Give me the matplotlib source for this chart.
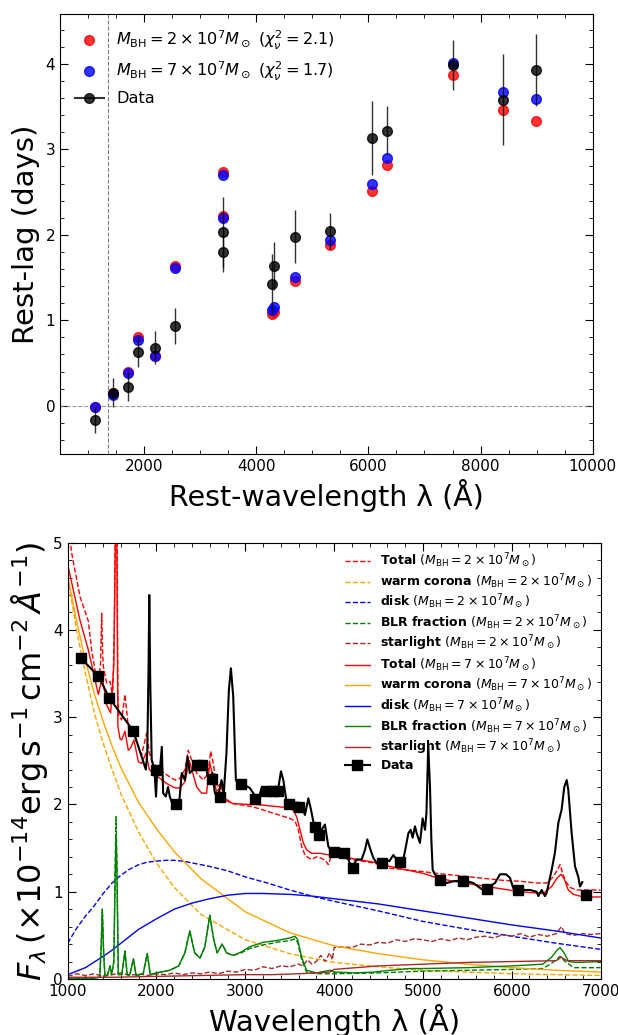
import matplotlib
matplotlib.use('Agg')
import matplotlib.pyplot as plt
from matplotlib.lines import Line2D
from matplotlib.ticker import MultipleLocator

# ---------------- top panel: rest-frame lags ----------------
lag_wave = [1127, 1444, 1704, 1887, 2197, 2549, 3401, 3401, 4282, 4310, 4683, 5310, 6063, 6331, 7514, 8408, 8993]
lag_model_2e7 = [-0.02, 0.15, 0.40, 0.80, 0.58, 1.64, 2.73, 2.22, 1.07, 1.10, 1.46, 1.88, 2.51, 2.82, 3.87, 3.46, 3.33]
lag_model_7e7 = [-0.02, 0.13, 0.38, 0.77, 0.58, 1.61, 2.70, 2.20, 1.12, 1.16, 1.51, 1.94, 2.59, 2.90, 4.01, 3.67, 3.59]
lag_data = [-0.17, 0.15, 0.22, 0.63, 0.68, 0.93, 2.03, 1.80, 1.42, 1.64, 1.98, 2.04, 3.13, 3.22, 3.99, 3.58, 3.93]
lag_err = [0.15, 0.17, 0.17, 0.18, 0.19, 0.21, 0.41, 0.24, 0.35, 0.28, 0.31, 0.21, 0.43, 0.29, 0.29, 0.53, 0.42]
lyman_edge = 1350

# ---------------- bottom panel: SED decomposition ----------------
tot2_w = [1000, 1045, 1139, 1200, 1233, 1270, 1308, 1345, 1370, 1383, 1395, 1402, 1439, 1477, 1507, 1525, 1540, 1555,
          1565, 1575, 1608, 1645, 1683, 1721, 1746, 1796, 1833, 1890, 1919, 1964, 2039, 2114, 2208, 2265, 2320, 2358,
          2396, 2453, 2527, 2583, 2610, 2640, 2676, 2732, 2770, 2863, 3050, 3128, 3315, 3503, 3560, 3597, 3635, 3672,
          3710, 3747, 3800, 3841, 3900, 3935, 3972, 4066, 4254, 4441, 4630, 4817, 5005, 5155, 5342, 5530, 5718, 5906,
          6093, 6281, 6394, 6468, 6525, 6544, 6562, 6600, 6656, 6731, 7000]
tot2_f = [5.30, 4.88, 4.38, 4.20, 4.10, 3.77, 3.54, 3.41, 3.60, 4.19, 3.70, 3.58, 3.39, 3.41, 3.24, 4.00, 5.50, 5.50,
          3.30, 3.01, 2.97, 3.26, 2.89, 2.85, 2.80, 2.66, 2.57, 2.82, 2.59, 2.47, 2.40, 2.34, 2.28, 2.30, 2.40, 2.62,
          2.51, 2.36, 2.28, 2.36, 2.61, 2.47, 2.20, 2.24, 2.07, 2.01, 1.98, 1.96, 1.90, 1.84, 1.81, 1.71, 1.52, 1.42,
          1.39, 1.37, 1.40, 1.39, 1.36, 1.31, 1.42, 1.39, 1.36, 1.33, 1.27, 1.25, 1.23, 1.21, 1.19, 1.17, 1.15, 1.13,
          1.12, 1.10, 1.10, 1.17, 1.27, 1.31, 1.25, 1.13, 1.05, 1.02, 1.02]

tot7_w = [1000, 1139, 1233, 1308, 1345, 1390, 1439, 1484, 1520, 1540, 1552, 1565, 1590, 1608, 1645, 1683, 1710, 1746,
          1796, 1833, 1882, 1919, 1964, 2039, 2114, 2208, 2265, 2320, 2370, 2408, 2453, 2508, 2565, 2600, 2631, 2676,
          2732, 2770, 2863, 3050, 3128, 3315, 3503, 3541, 3578, 3616, 3653, 3691, 3747, 3841, 3954, 4066, 4254, 4441,
          4630, 4817, 5005, 5155, 5342, 5718, 6093, 6356, 6450, 6506, 6555, 6590, 6637, 6694, 6769, 6844, 7000]
tot7_f = [4.75, 4.11, 3.77, 3.43, 3.26, 3.46, 3.14, 3.05, 3.60, 5.30, 5.30, 2.90, 2.75, 2.74, 2.84, 2.62, 2.65, 2.74,
          2.49, 2.47, 2.59, 2.40, 2.36, 2.30, 2.24, 2.19, 2.19, 2.26, 2.50, 2.36, 2.20, 2.13, 2.13, 2.48, 2.34, 2.15,
          2.20, 2.05, 2.01, 2.00, 2.00, 1.98, 1.96, 1.93, 1.86, 1.71, 1.56, 1.48, 1.44, 1.44, 1.42, 1.41, 1.37, 1.34,
          1.29, 1.25, 1.21, 1.16, 1.12, 1.06, 1.00, 0.98, 1.06, 1.15, 1.20, 1.15, 1.02, 0.97, 0.95, 0.94, 0.94]

corona2_w = [1000, 1100, 1200, 1300, 1400, 1500, 1600, 1800, 2000, 2200, 2500, 3000, 3500, 4000, 4500, 5000, 6000, 7000]
corona2_f = [4.60, 4.00, 3.50, 3.05, 2.70, 2.40, 2.12, 1.68, 1.33, 1.05, 0.74, 0.45, 0.29, 0.19, 0.14, 0.10, 0.06, 0.04]
corona7_w = [1000, 1100, 1200, 1300, 1400, 1500, 1600, 1800, 2000, 2200, 2500, 3000, 3500, 4000, 4500, 5000, 5500,
             6000, 6500, 7000]
corona7_f = [4.62, 4.10, 3.65, 3.27, 2.95, 2.67, 2.42, 2.02, 1.72, 1.46, 1.15, 0.77, 0.53, 0.38, 0.29, 0.22, 0.17,
             0.13, 0.10, 0.08]

disk2_w = [1000, 1100, 1200, 1300, 1400, 1500, 1600, 1700, 1800, 1900, 2000, 2100, 2200, 2300, 2400, 2500, 2600, 2800,
           3000, 3250, 3500, 3750, 4000, 4500, 5000, 5500, 6000, 6500, 7000]
disk2_f = [0.41, 0.58, 0.72, 0.84, 0.98, 1.10, 1.19, 1.26, 1.31, 1.34, 1.35, 1.36, 1.36, 1.35, 1.33, 1.31, 1.29, 1.24,
           1.17, 1.10, 1.02, 0.95, 0.89, 0.78, 0.66, 0.57, 0.49, 0.41, 0.34]
disk7_w = [1000, 1200, 1400, 1500, 1600, 1800, 2000, 2200, 2400, 2600, 2800, 3000, 3200, 3500, 3750, 4000, 4500, 5000,
           5500, 6000, 6500, 7000]
disk7_f = [0.05, 0.13, 0.26, 0.33, 0.41, 0.57, 0.69, 0.80, 0.87, 0.92, 0.96, 0.98, 0.98, 0.97, 0.95, 0.92, 0.86, 0.78,
           0.70, 0.62, 0.55, 0.47]

blr7_w = [1000, 1300, 1360, 1375, 1390, 1405, 1420, 1450, 1477, 1495, 1520, 1535, 1545, 1555, 1570, 1610, 1645, 1670,
          1700, 1740, 1770, 1850, 1896, 1930, 2000, 2150, 2250, 2320, 2375, 2430, 2490, 2545, 2600, 2645, 2683, 2740,
          2789, 2863, 2955, 3050, 3200, 3350, 3500, 3560, 3590, 3635, 3690, 3800, 3900, 3960, 4000, 4250, 4450, 4630,
          4850, 5000, 5500, 6000, 6350, 6450, 6510, 6545, 6590, 6640, 6730, 7000]
blr7_f = [0.01, 0.01, 0.02, 0.30, 0.80, 0.30, 0.03, 0.05, 0.15, 0.05, 0.20, 1.20, 1.65, 1.20, 0.05, 0.05, 0.32, 0.05,
          0.05, 0.23, 0.04, 0.06, 0.29, 0.05, 0.07, 0.10, 0.15, 0.30, 0.55, 0.30, 0.24, 0.37, 0.73, 0.45, 0.30, 0.40,
          0.30, 0.27, 0.31, 0.37, 0.42, 0.44, 0.47, 0.49, 0.45, 0.25, 0.10, 0.07, 0.09, 0.10, 0.08, 0.07, 0.08, 0.10,
          0.12, 0.12, 0.13, 0.15, 0.17, 0.25, 0.33, 0.36, 0.30, 0.20, 0.19, 0.20]
blr2_w = [1000, 1300, 1360, 1375, 1390, 1405, 1420, 1450, 1477, 1495, 1520, 1535, 1545, 1555, 1570, 1610, 1645, 1670,
          1700, 1740, 1770, 1850, 1896, 1930, 2000, 2150, 2250, 2320, 2375, 2430, 2490, 2545, 2600, 2645, 2683, 2740,
          2789, 2863, 2955, 3050, 3200, 3350, 3500, 3560, 3590, 3635, 3690, 3800, 4000, 4500, 5000, 5500, 6000, 6350,
          6450, 6545, 6600, 6700, 7000]
blr2_f = [0.01, 0.01, 0.02, 0.30, 0.80, 0.30, 0.03, 0.05, 0.15, 0.05, 0.20, 1.30, 1.86, 1.30, 0.05, 0.05, 0.32, 0.05,
          0.05, 0.23, 0.04, 0.06, 0.29, 0.05, 0.07, 0.10, 0.15, 0.30, 0.55, 0.30, 0.24, 0.37, 0.73, 0.45, 0.30, 0.40,
          0.30, 0.27, 0.30, 0.35, 0.39, 0.42, 0.44, 0.46, 0.42, 0.22, 0.08, 0.06, 0.06, 0.07, 0.09, 0.10, 0.11, 0.12,
          0.18, 0.26, 0.20, 0.13, 0.13]

star2_w = [1000, 1100, 1200, 1300, 1400, 1500, 1600, 1700, 1800, 1900, 2000, 2100, 2200, 2300, 2400, 2500, 2600, 2700,
           2800, 2900, 3000, 3100, 3200, 3300, 3400, 3500, 3600, 3650, 3700, 3750, 3800, 3850, 3900, 3950, 3980, 4000,
           4100, 4200, 4300, 4400, 4500, 4600, 4700, 4800, 4900, 5000, 5100, 5200, 5300, 5400, 5500, 5600, 5700, 5800,
           5900, 6000, 6100, 6200, 6300, 6400, 6500, 6560, 6600, 6700, 6800, 6900, 7000]
star2_f = [0.03, 0.06, 0.04, 0.06, 0.03, 0.05, 0.07, 0.04, 0.06, 0.04, 0.06, 0.05, 0.07, 0.05, 0.07, 0.06, 0.08, 0.06,
           0.09, 0.08, 0.11, 0.10, 0.14, 0.12, 0.15, 0.14, 0.17, 0.15, 0.22, 0.17, 0.20, 0.27, 0.20, 0.30, 0.22, 0.36,
           0.37, 0.36, 0.40, 0.39, 0.42, 0.41, 0.45, 0.43, 0.46, 0.45, 0.43, 0.46, 0.44, 0.47, 0.45, 0.48, 0.49, 0.47,
           0.51, 0.49, 0.52, 0.48, 0.51, 0.49, 0.52, 0.60, 0.52, 0.50, 0.52, 0.51, 0.52]
star7_w = [1000, 1500, 2000, 2500, 3000, 3300, 3600, 3800, 3950, 4000, 4500, 5000, 5500, 6000, 6500, 6560, 6620, 7000]
star7_f = [0.02, 0.02, 0.03, 0.04, 0.05, 0.05, 0.06, 0.07, 0.08, 0.11, 0.15, 0.17, 0.19, 0.20, 0.21, 0.25, 0.21, 0.21]

phot_w = [1146, 1345, 1470, 1740, 2000, 2225, 2460, 2510, 2620, 2710, 2950, 3110, 3230, 3310, 3370, 3490, 3600, 3790,
          3830, 3995, 4110, 4215, 4540, 4745, 5195, 5455, 5720, 6075, 6840]
phot_f = [3.68, 3.47, 3.22, 2.84, 2.39, 2.01, 2.45, 2.45, 2.29, 2.08, 2.24, 2.06, 2.15, 2.15, 2.15, 2.01, 1.97, 1.74,
          1.65, 1.46, 1.44, 1.27, 1.33, 1.34, 1.13, 1.12, 1.03, 1.02, 0.96]

spec_w = [1880, 1896, 1910, 1919, 1930, 1946, 1976, 1995, 2010, 2035, 2060, 2075, 2105, 2130, 2150, 2190, 2227, 2258,
          2285, 2320, 2350, 2375, 2413, 2450, 2480, 2525, 2563, 2593, 2631, 2657, 2695, 2732, 2758, 2788, 2815, 2838,
          2864, 2894, 2920, 2978, 3050, 3090, 3146, 3184, 3250, 3315, 3372, 3402, 3428, 3466, 3541, 3597, 3635, 3672,
          3710, 3740, 3773, 3811, 3860, 3897, 3935, 3972, 4029, 4085, 4141, 4198, 4254, 4310, 4348, 4374, 4404, 4441,
          4479, 4535, 4573, 4622, 4667, 4704, 4742, 4779, 4809, 4836, 4862, 4884, 4911, 4930, 4967, 4997, 5024, 5040,
          5060, 5080, 5095, 5110, 5136, 5192, 5267, 5342, 5455, 5568, 5661, 5718, 5812, 5868, 5936, 5980, 6018, 6093,
          6206, 6281, 6300, 6337, 6375, 6394, 6450, 6487, 6525, 6562, 6592, 6619, 6637, 6675, 6713, 6750, 6769, 6795]
spec_f = [2.40, 2.59, 3.50, 4.40, 3.40, 2.51, 2.40, 2.09, 2.43, 2.35, 2.66, 2.13, 2.09, 2.20, 2.09, 1.98, 1.98, 2.05,
          2.36, 2.28, 2.55, 2.36, 2.40, 2.47, 2.47, 2.43, 2.40, 2.24, 2.36, 2.13, 2.09, 2.28, 2.13, 2.59, 3.31, 3.56,
          3.24, 2.28, 2.24, 2.23, 2.19, 2.13, 2.05, 2.19, 2.17, 2.19, 2.19, 2.38, 2.28, 2.02, 2.02, 2.02, 1.98, 1.88,
          2.07, 1.94, 1.77, 1.67, 1.71, 1.77, 1.52, 1.46, 1.44, 1.46, 1.42, 1.27, 1.37, 1.37, 1.48, 1.60, 1.50, 1.39,
          1.33, 1.33, 1.37, 1.35, 1.42, 1.37, 1.35, 1.37, 1.52, 1.67, 1.71, 1.62, 1.75, 1.67, 1.56, 1.84, 1.71, 1.90,
          2.67, 2.20, 1.60, 1.25, 1.20, 1.14, 1.10, 1.12, 1.13, 1.10, 1.03, 1.04, 1.10, 1.20, 1.20, 1.16, 1.04, 1.02,
          1.02, 1.00, 0.95, 1.02, 0.95, 0.99, 1.25, 1.45, 1.79, 1.94, 2.20, 2.28, 2.17, 1.67, 1.29, 1.17, 1.06, 1.11]

m2 = r'($M_{\rm BH}=2\times10^7M_\odot$)'
m7 = r'($M_{\rm BH}=7\times10^7M_\odot$)'


def style_axes(ax):
    ax.tick_params(which='both', direction='in', top=True, right=True)
    ax.tick_params(which='major', length=6, labelsize=11)
    ax.tick_params(which='minor', length=3)


fig = plt.figure(figsize=(6.18, 10.35), dpi=100)

# top panel
ax1 = fig.add_axes([0.0971, 0.5617, 0.8620, 0.4245])
ax1.axhline(0, color='gray', ls='--', lw=0.8, alpha=0.8)
ax1.axvline(lyman_edge, color='gray', ls='--', lw=0.8)
ax1.plot(lag_wave, lag_model_2e7, 'o', color='red', ms=7, alpha=0.8)
ax1.plot(lag_wave, lag_model_7e7, 'o', color='blue', ms=7, alpha=0.8)
ax1.errorbar(lag_wave, lag_data, yerr=lag_err, fmt='o', color='k', ms=7, alpha=0.8, elinewidth=1)
top_handles = [Line2D([], [], ls='none', marker='o', color='red', ms=7, alpha=0.8),
               Line2D([], [], ls='none', marker='o', color='blue', ms=7, alpha=0.8),
               Line2D([], [], marker='o', color='k', ms=7, lw=1.5, alpha=0.8)]
top_labels = [r'$M_{\rm BH}=2\times10^7M_\odot$ ($\chi^2_\nu=2.1$)',
              r'$M_{\rm BH}=7\times10^7M_\odot$ ($\chi^2_\nu=1.7$)', 'Data']
ax1.set_xlim(500, 10000)
ax1.set_ylim(-0.56, 4.58)
ax1.xaxis.set_minor_locator(MultipleLocator(500))
ax1.yaxis.set_minor_locator(MultipleLocator(0.2))
style_axes(ax1)
ax1.set_xlabel('Rest-wavelength λ (Å)', fontsize=20.5)
ax1.set_ylabel('Rest-lag (days)', fontsize=21)
ax1.legend(top_handles, top_labels, loc='upper left', frameon=False, fontsize=11.6, handlelength=1.8)

# bottom panel
ax2 = fig.add_axes([0.1095, 0.0541, 0.8622, 0.4216])
ax2.plot(tot2_w, tot2_f, '--', color='red', lw=1, label=r'$\bf{Total}$ ' + m2)
ax2.plot(corona2_w, corona2_f, '--', color='orange', lw=1, label=r'$\bf{warm\ corona}$ ' + m2)
ax2.plot(disk2_w, disk2_f, '--', color='blue', lw=1, label=r'$\bf{disk}$ ' + m2)
ax2.plot(blr2_w, blr2_f, '--', color='green', lw=1, label=r'$\bf{BLR\ fraction}$ ' + m2)
ax2.plot(star2_w, star2_f, '--', color='brown', lw=1, label=r'$\bf{starlight}$ ' + m2)
ax2.plot(tot7_w, tot7_f, '-', color='red', lw=1, label=r'$\bf{Total}$ ' + m7)
ax2.plot(corona7_w, corona7_f, '-', color='orange', lw=1, label=r'$\bf{warm\ corona}$ ' + m7)
ax2.plot(disk7_w, disk7_f, '-', color='blue', lw=1, label=r'$\bf{disk}$ ' + m7)
ax2.plot(blr7_w, blr7_f, '-', color='green', lw=1, label=r'$\bf{BLR\ fraction}$ ' + m7)
ax2.plot(star7_w, star7_f, '-', color='brown', lw=1, label=r'$\bf{starlight}$ ' + m7)
ax2.plot(phot_w[:4] + spec_w, phot_f[:4] + spec_f, '-', color='k', lw=1.5)
ax2.plot(phot_w, phot_f, 's', color='k', ms=7)
handles, labels = ax2.get_legend_handles_labels()
handles.append(Line2D([], [], color='k', marker='s', ms=7, lw=1.5))
labels.append(r'$\bf{Data}$')
ax2.legend(handles, labels, loc='upper right', frameon=False, fontsize=9, handlelength=2.0,
           handletextpad=0.8, labelspacing=0.15, borderaxespad=0.3)
ax2.set_xlim(1000, 7000)
ax2.set_ylim(0, 5)
ax2.xaxis.set_minor_locator(MultipleLocator(200))
ax2.yaxis.set_minor_locator(MultipleLocator(0.2))
style_axes(ax2)
ax2.set_xlabel('Wavelength λ (Å)', fontsize=21)
ax2.set_ylabel(r'$F_\lambda\,(\times10^{-14}{\rm erg\,s^{-1}\,cm^{-2}}\,\AA^{-1})$', fontsize=23, labelpad=2)

fig.savefig('out.png', dpi=100)
